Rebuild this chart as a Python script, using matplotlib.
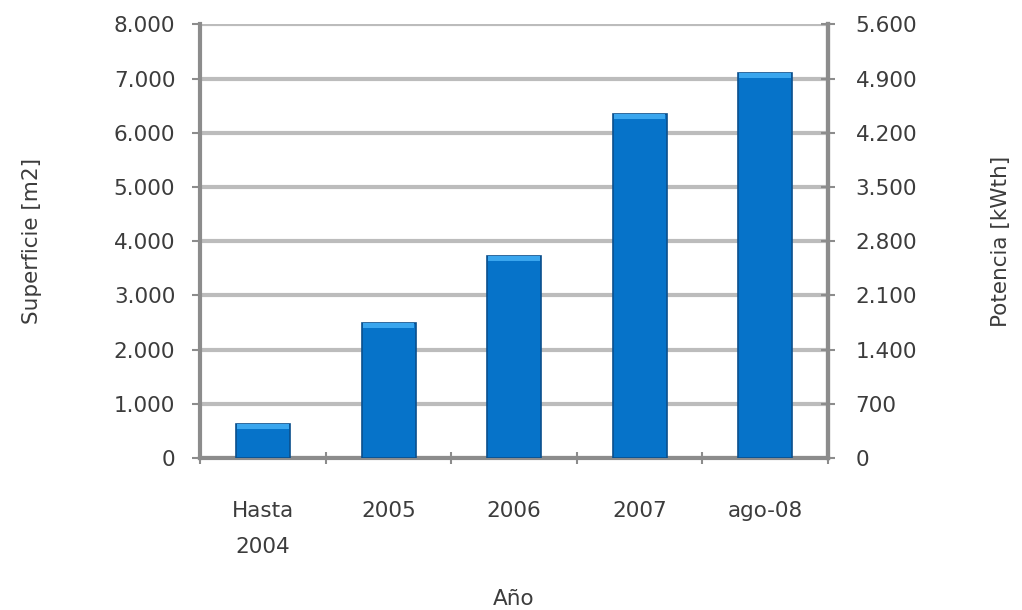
import matplotlib
matplotlib.use("Agg")
import matplotlib.pyplot as plt
from matplotlib.ticker import FuncFormatter, MultipleLocator

# superficie instalada acumulada por periodo
categories = ["Hasta\n2004", "2005", "2006", "2007", "ago-08"]
superficie = [630, 2490, 3720, 6340, 7100]   # m2
kw_per_m2 = 0.7                               # factor de conversión a kWth

plt.rcParams["font.family"] = ["DejaVu Sans"]
TXT = "#3c3c3c"
GRID = "#bcbcbc"
SPINE = "#8c8c8c"
FS = 15.5


def miles(v, _pos):
    return f"{int(round(v)):,}".replace(",", ".")


fig = plt.figure(figsize=(10.22, 6.10), dpi=100)
ax = fig.add_axes([0.196, 0.249, 0.614, 0.711])

x = list(range(len(categories)))
ax.bar(x, superficie, width=0.43, color="#0673c9", edgecolor="#0b4f8c",
       linewidth=1.2, zorder=3)
# franja clara en la parte superior de cada barra
cap = 90
ax.bar(x, [cap] * len(x), bottom=[v - cap for v in superficie], width=0.41,
       color="#3aa6ee", linewidth=0, zorder=4)

ax.set_xlim(-0.5, len(categories) - 0.5)
ax.set_ylim(0, 8000)
ax.yaxis.set_major_locator(MultipleLocator(1000))
ax.yaxis.set_major_formatter(FuncFormatter(miles))
ax.grid(axis="y", color=GRID, linewidth=3, zorder=0)
ax.set_axisbelow(True)

ax.set_xticks(x)
ax.set_xticklabels(categories, linespacing=2.0)
ax.set_xticks([i + 0.5 for i in range(-1, len(categories))], minor=True)
ax.tick_params(axis="x", which="major", length=0, pad=31)
ax.tick_params(axis="x", which="minor", length=8, width=1.5, color=SPINE,
               direction="inout")
ax.tick_params(axis="y", length=6, width=1.5, color=SPINE, pad=12)
ax.tick_params(labelsize=FS, labelcolor=TXT)

ax.spines["top"].set_visible(False)
for side in ("left", "right", "bottom"):
    ax.spines[side].set_color(SPINE)
    ax.spines[side].set_linewidth(3)

ax.set_ylabel("Superficie [m2]", fontsize=FS, color=TXT, labelpad=52)
ax.set_xlabel("Año", fontsize=FS, color=TXT, labelpad=23)

ax2 = ax.twinx()
ax2.set_ylim(0, 8000 * kw_per_m2)
ax2.yaxis.set_major_locator(MultipleLocator(1000 * kw_per_m2))
ax2.yaxis.set_major_formatter(FuncFormatter(miles))
ax2.tick_params(axis="y", length=10, width=1.5, color=SPINE, direction="inout",
                pad=15, labelsize=FS, labelcolor=TXT)
for side in ("top", "left", "bottom"):
    ax2.spines[side].set_visible(False)
ax2.spines["right"].set_color(SPINE)
ax2.spines["right"].set_linewidth(3)
ax2.set_ylabel("Potencia [kWth]", fontsize=FS, color=TXT, labelpad=53)

fig.savefig("out.png", dpi=100)
